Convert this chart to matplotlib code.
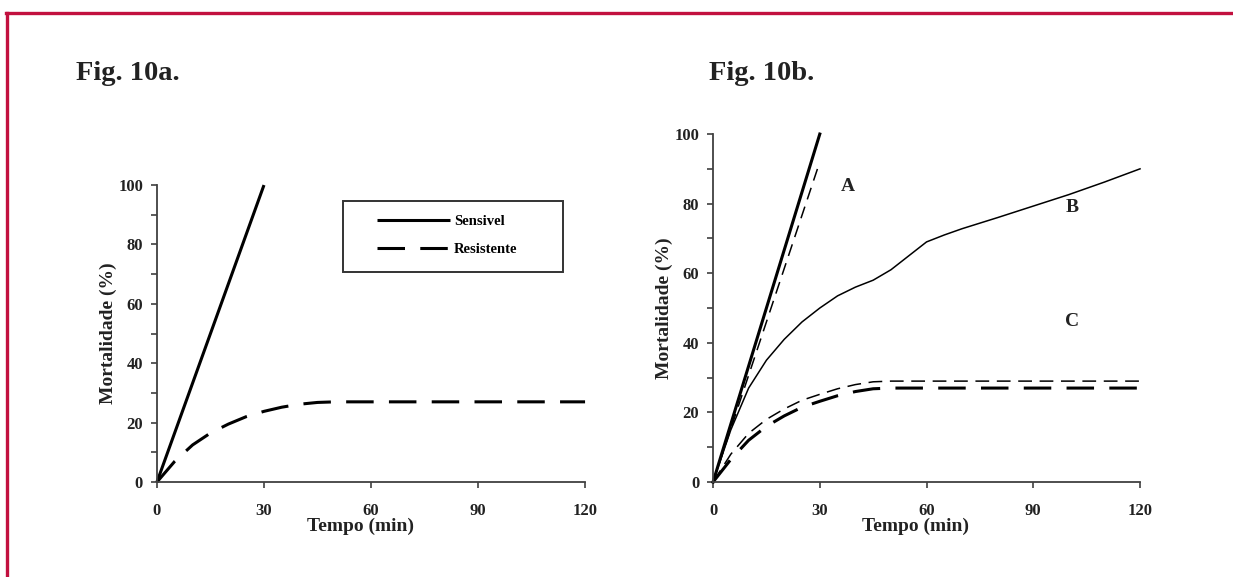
import matplotlib
matplotlib.use("Agg")
import matplotlib.pyplot as plt
from matplotlib.lines import Line2D
from matplotlib.patches import Rectangle

plt.rcParams['font.family'] = ['Liberation Serif', 'DejaVu Serif']
plt.rcParams['font.weight'] = 'bold'

# ---------------- data ----------------
x_ticks = [0, 30, 60, 90, 120]
y_ticks = [0, 20, 40, 60, 80, 100]

# Fig. 10a
sens_t = [0, 30]
sens_y = [0, 100]
res_t = [0, 5, 10, 15, 20, 25, 30, 35, 40, 45, 50, 60, 90, 120]
res_y = [0, 7, 12.5, 16.5, 19.5, 22, 23.8, 25.2, 26.2, 26.8, 27, 27, 27, 27]

# Fig. 10b
a_thick_t = [0, 30]
a_thick_y = [0, 100]
a_thin_t = [0, 30]
a_thin_y = [0, 92]
b_t = [0, 5, 10, 15, 20, 25, 30, 35, 40, 45, 50, 55, 60, 65, 70, 80, 90, 100, 110, 120]
b_y = [0, 15, 27, 35, 41, 46, 50, 53.5, 56, 58, 61, 65, 69, 71, 72.8, 76, 79.3, 82.6, 86.2, 90]
c_thin_t = [0, 5, 10, 15, 20, 25, 30, 35, 40, 45, 50, 60, 90, 120]
c_thin_y = [0, 8, 14, 18, 21, 23.5, 25.2, 26.8, 28, 28.8, 29, 29, 29, 29]
c_thick_t = [0, 5, 10, 15, 20, 25, 30, 35, 40, 45, 50, 60, 90, 120]
c_thick_y = [0, 6.5, 12, 16, 19, 21.5, 23.2, 24.8, 26, 26.8, 27, 27, 27, 27]

labels_b = ["A", "B", "C"]
labels_b_x = [38, 101, 101]
labels_b_y = [85, 79, 46]

# ---------------- figure ----------------
fig = plt.figure(figsize=(12.33, 5.77), dpi=100)

# red frame
red = "#c2103f"
fig.add_artist(Line2D([0.005, 1.0], [0.9775, 0.9775], transform=fig.transFigure, color=red, lw=2.4))
fig.add_artist(Line2D([0.0057, 0.0057], [0.0, 0.9775], transform=fig.transFigure, color=red, lw=2.4))

spine_c = "#404040"
txt_c = "#222222"
tick_fs = 12
lab_fs = 14


def style_axes(ax):
    ax.set_xlim(0, 120)
    ax.set_ylim(0, 100)
    for s in ("top", "right"):
        ax.spines[s].set_visible(False)
    for s in ("left", "bottom"):
        ax.spines[s].set_color(spine_c)
        ax.spines[s].set_linewidth(1.3)
    ax.set_xticks(x_ticks)
    ax.set_yticks(y_ticks)
    ax.set_yticks([10, 30, 50, 70, 90], minor=True)
    ax.tick_params(axis="both", which="both", direction="out", length=4, width=1.2, color=spine_c)
    ax.tick_params(axis="x", pad=11, labelsize=tick_fs)
    ax.tick_params(axis="y", pad=6, labelsize=tick_fs)
    for lab in ax.get_xticklabels() + ax.get_yticklabels():
        lab.set_fontweight("bold")
        lab.set_color(txt_c)
    ax.set_xlabel("Tempo (min)", fontsize=lab_fs, fontweight="bold", labelpad=-1, color=txt_c)
    ax.xaxis.label.set_x(0.475)
    ax.set_ylabel("Mortalidade (%)", fontsize=lab_fs, fontweight="bold", labelpad=1, color=txt_c)


# Fig. 10a
ax1 = fig.add_axes([0.1273, 0.1646, 0.3472, 0.5147])
l1, = ax1.plot(sens_t, sens_y, color="black", lw=2.2, solid_capstyle="butt", label="Sensivel", clip_on=False)
l2, = ax1.plot(res_t, res_y, color="black", lw=2.2, dashes=(9, 5), label="Resistente", clip_on=False)
style_axes(ax1)
ax1.add_patch(Rectangle((0.435, 0.707), 0.514, 0.239, transform=ax1.transAxes,
                        fill=False, lw=1.4, edgecolor="#333333", clip_on=False))
ax1.legend(handles=[l1, l2], loc="upper left", bbox_to_anchor=(0.49, 0.935), frameon=False,
           handlelength=5.0, handletextpad=0.3, labelspacing=1.05, borderpad=0.2,
           prop={"family": "Liberation Serif", "weight": "bold", "size": 10.5})
fig.text(0.062, 0.862, "Fig. 10a.", fontsize=20.5, fontweight="bold", color=txt_c)

# Fig. 10b
ax2 = fig.add_axes([0.5783, 0.1646, 0.3463, 0.6031])
ax2.plot(a_thick_t, a_thick_y, color="black", lw=2.2, clip_on=False)
ax2.plot(a_thin_t, a_thin_y, color="black", lw=1.1, dashes=(8, 5), clip_on=False)
ax2.plot(b_t, b_y, color="black", lw=1.1, clip_on=False)
ax2.plot(c_thin_t, c_thin_y, color="black", lw=1.1, dashes=(9, 5), clip_on=False)
ax2.plot(c_thick_t, c_thick_y, color="black", lw=2.2, dashes=(9, 5), clip_on=False)
for t, xx, yy in zip(labels_b, labels_b_x, labels_b_y):
    ax2.text(xx, yy, t, fontsize=14, fontweight="bold", ha="center", va="center", color=txt_c)
style_axes(ax2)
fig.text(0.575, 0.862, "Fig. 10b.", fontsize=20.5, fontweight="bold", color=txt_c)

fig.savefig("out.png", dpi=100, facecolor="white")
